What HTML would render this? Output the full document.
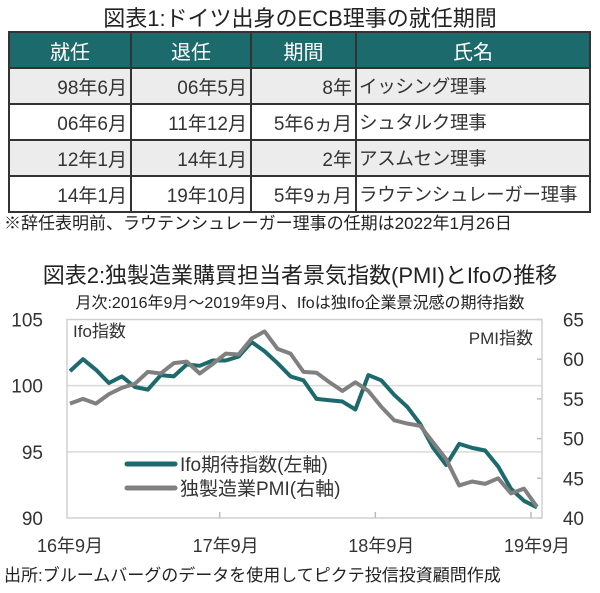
<!DOCTYPE html>
<html><head><meta charset="utf-8">
<style>
body{margin:0;background:#fff;width:600px;height:593px;overflow:hidden;font-family:"Liberation Sans","Noto Sans CJK JP",sans-serif;color:#222}
.t{position:absolute;white-space:nowrap}
table{position:absolute;left:8px;top:31px;border-collapse:collapse;width:581px;table-layout:fixed}
tr{height:36px}
td,th{border:2px solid #333;padding:0 3px;font-size:19px;font-weight:normal;color:#333;white-space:nowrap;overflow:hidden}
th{background:#1d6a6c;color:#fff;font-size:20px}
td.r{text-align:right}
td.n{font-size:18.5px;padding:0 2px;letter-spacing:-0.3px}
tr.g td{background:#ececec}
</style></head><body>
<div class="t" style="left:0;width:600px;text-align:center;top:1px;font-size:22px">図表1:ドイツ出身のECB理事の就任期間</div>
<table>
<colgroup><col style="width:122px"><col style="width:120px"><col style="width:105px"><col style="width:234px"></colgroup>
<tr><th>就任</th><th>退任</th><th>期間</th><th>氏名</th></tr>
<tr class="g"><td class="r">98年6月</td><td class="r">06年5月</td><td class="r">8年</td><td class="n">イッシング理事</td></tr>
<tr><td class="r">06年6月</td><td class="r">11年12月</td><td class="r">5年6ヵ月</td><td class="n">シュタルク理事</td></tr>
<tr class="g"><td class="r">12年1月</td><td class="r">14年1月</td><td class="r">2年</td><td class="n">アスムセン理事</td></tr>
<tr><td class="r">14年1月</td><td class="r">19年10月</td><td class="r">5年9ヵ月</td><td class="n">ラウテンシュレーガー理事</td></tr>
</table>
<div class="t" style="left:4px;top:209px;font-size:17px">※辞任表明前、ラウテンシュレーガー理事の任期は2022年1月26日</div>
<div class="t" style="left:0;width:600px;text-align:center;top:258px;font-size:22px">図表2:独製造業購買担当者景気指数(PMI)とIfoの推移</div>
<div class="t" style="left:0;width:600px;text-align:center;top:289px;font-size:16px">月次:2016年9月～2019年9月、Ifoは独Ifo企業景況感の期待指数</div>
<svg id="ch" width="600" height="593" style="position:absolute;left:0;top:0"></svg>
<div class="t" style="left:4px;top:561px;font-size:17px">出所:ブルームバーグのデータを使用してピクテ投信投資顧問作成</div>
<script>
const ifo=[101.1,102.0,101.2,100.2,100.7,99.9,99.7,100.8,100.7,101.6,101.5,101.9,101.9,102.2,103.3,102.6,101.7,100.7,100.4,99.0,98.9,98.8,98.2,100.8,100.4,99.3,98.4,97.1,95.3,94.0,95.6,95.3,95.1,93.9,92.2,91.3,90.8];
const pmi=[54.4,55.0,54.4,55.6,56.4,56.9,58.4,58.2,59.5,59.7,58.2,59.4,60.7,60.6,62.6,63.5,61.3,60.7,58.4,58.3,57.1,56.0,57.1,56.0,54.0,52.3,51.9,51.6,49.5,47.4,44.1,44.6,44.3,45.0,43.1,43.7,41.4];
const leftTicks=[90,95,100,105];
const rightTicks=[40,45,50,55,60,65];
const xLabels=["16年9月","17年9月","18年9月","19年9月"];
const xLabelIdx=[0,12,24,36];
const NS="http://www.w3.org/2000/svg",svg=document.getElementById('ch');
const L=67,R=542,T=319.5,B=518;
const xs=i=>70+i*(537-70)/36;
const yl=v=>B-(v-90)/15*(B-T);
const yr=v=>B-(v-40)/25*(B-T);
function mk(t,a,txt){const e=document.createElementNS(NS,t);for(const k in a)e.setAttribute(k,a[k]);if(txt!=null)e.textContent=txt;svg.appendChild(e);return e;}
leftTicks.forEach(v=>{if(v>90&&v<105){const g=mk('line',{x1:L,x2:R,y1:yl(v),y2:yl(v),stroke:'#d9d9d9','stroke-width':1.5});

}
const t=mk('text',{x:43,y:yl(v)+7,'text-anchor':'end','font-size':19,fill:'#333'},v);

});
rightTicks.forEach(v=>{const m=mk('line',{x1:R-5,x2:R,y1:yr(v),y2:yr(v),stroke:'#bbb','stroke-width':1.5});


const t=mk('text',{x:584,y:yr(v)+7,'text-anchor':'end','font-size':19,fill:'#333'},v);

});
const box=mk('rect',{x:L,y:T,width:R-L,height:B-T,fill:'none',stroke:'#d0d0d0','stroke-width':1.5});


xLabels.forEach((s,k)=>{const x=xs(xLabelIdx[k]);
if(k>0){const m=mk('line',{x1:x-6,x2:x-6,y1:B-6,y2:B,stroke:'#bbb','stroke-width':1.5});

}
const t=mk('text',{x:x,y:552,'text-anchor':'middle','font-size':18,fill:'#333'},s);

});
const a1=mk('text',{x:73,y:337,'font-size':17,fill:'#333'},'Ifo指数');


const a2=mk('text',{x:533,y:344,'text-anchor':'end','font-size':17,fill:'#333'},'PMI指数');


const p1=mk('polyline',{points:ifo.map((v,i)=>xs(i)+','+yl(v)).join(' '),fill:'none',stroke:'#1d6a6c','stroke-width':4,'stroke-linejoin':'round'});


const p2=mk('polyline',{points:pmi.map((v,i)=>xs(i)+','+yr(v)).join(' '),fill:'none',stroke:'#808080','stroke-width':4,'stroke-linejoin':'round'});


[['#1d6a6c','Ifo期待指数(左軸)',464],['#808080','独製造業PMI(右軸)',488]].forEach((d,k)=>{
const l=mk('line',{x1:127,x2:175,y1:d[2],y2:d[2],stroke:d[0],'stroke-width':5,'stroke-linecap':'round'});


const t=mk('text',{x:180,y:d[2]+7,'font-size':19,fill:'#333'},d[1]);

});
</script>
</body></html>
